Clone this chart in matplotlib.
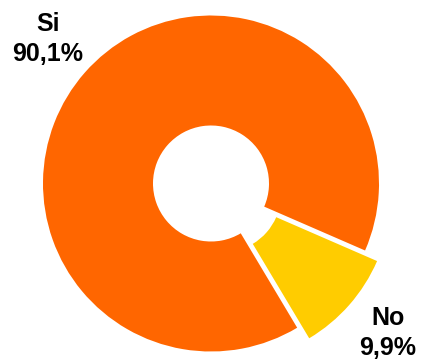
import matplotlib.pyplot as plt

labels = ['Si', 'No']
values = [90.1, 9.9]
colors = ['#FF6600', '#FFCC00']

fig = plt.figure(figsize=(4.21, 3.61), dpi=100)
ax = fig.add_axes([0, 0, 1, 1])

ax.pie(values, colors=colors, startangle=-23.5, counterclock=True,
       center=(211, 177.5), radius=168, explode=[0, 16],
       wedgeprops=dict(width=110, linewidth=0))

ax.set_xlim(0, 421)
ax.set_ylim(0, 361)
ax.set_aspect('equal')
ax.axis('off')

font = dict(family=['Liberation Sans', 'DejaVu Sans'], fontsize=18,
            fontweight='bold', ha='center', va='center', linespacing=1.3)
ax.text(48, 322, f"{labels[0]}\n{values[0]:.1f}%".replace('.', ','), **font)
ax.text(388, 28, f"{labels[1]}\n{values[1]:.1f}%".replace('.', ','), **font)

fig.savefig('out.png', dpi=100)
